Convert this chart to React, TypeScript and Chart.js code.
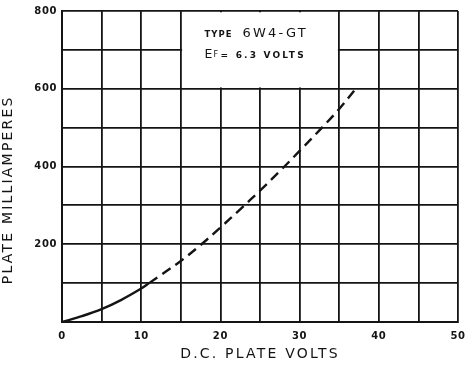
import React, { useEffect, useRef } from 'react';
import { Chart, registerables } from 'chart.js';

Chart.register(...registerables);

// ---- data ----
const solidVolts = [0, 2.5, 5, 7.5, 10, 11];
const solidMa = [0, 15, 33, 57, 86, 100];
const dashedVolts = [11, 12.5, 15, 17.5, 20, 22.5, 25, 27.5, 30, 32.5, 35, 37.1];
const dashedMa = [100, 121, 157, 198, 243, 290, 338, 388, 440, 493, 548, 600];

const xTickLabels = [0, 10, 20, 30, 40, 50];
const yTickLabels = [200, 400, 600, 800];

const xTitle = 'D.C. PLATE VOLTS';
const yTitle = 'PLATE MILLIAMPERES';
const typeWord = 'TYPE';
const tubeName = '6W4-GT';
const filamentE = 'E';
const filamentSub = 'F';
const filamentValue = '= 6.3 VOLTS';

const INK = '#141414';

const decorPlugin = {
  id: 'decor',
  beforeDraw(chart: any) {
    chart.ctx.letterSpacing = '2.2px';
  },
  beforeDatasetsDraw(chart: any) {
    const ctx = chart.ctx;
    ctx.letterSpacing = '0px';
    const xs = chart.scales.x;
    const ys = chart.scales.y;
    ctx.save();
    ctx.fillStyle = '#ffffff';
    const l = xs.getPixelForValue(15) + 1.3;
    const r = xs.getPixelForValue(35) - 1.3;
    const t = ys.getPixelForValue(800) + 1.3;
    const b = ys.getPixelForValue(600) - 1.3;
    ctx.fillRect(l, t, r - l, b - t);

    ctx.fillStyle = INK;
    ctx.textAlign = 'left';
    ctx.textBaseline = 'alphabetic';
    const x0 = xs.getPixelForValue(18);
    const y1 = ys.getPixelForValue(733);
    const y2 = ys.getPixelForValue(680);

    ctx.font = 'bold 8.5px "DejaVu Sans"';
    ctx.letterSpacing = '1px';
    ctx.fillText(typeWord, x0, y1);
    ctx.font = '13px "DejaVu Sans"';
    ctx.letterSpacing = '2.2px';
    ctx.fillText(tubeName, x0 + 38, y1);

    ctx.font = '12.5px "DejaVu Sans"';
    ctx.letterSpacing = '0px';
    ctx.fillText(filamentE, x0, y2);
    ctx.font = '8px "DejaVu Sans"';
    ctx.fillText(filamentSub, x0 + 9, y2 - 0.5);
    ctx.font = 'bold 9px "DejaVu Sans"';
    ctx.letterSpacing = '2.2px';
    ctx.fillText(filamentValue, x0 + 16, y2);
    ctx.restore();
  },
  afterDatasetsDraw(chart: any) {
    chart.ctx.letterSpacing = '0.6px';
  },
  afterDraw(chart: any) {
    chart.ctx.letterSpacing = '0px';
  },
};

export default function App() {
  const ref = useRef<HTMLCanvasElement | null>(null);

  useEffect(() => {
    if (!ref.current) return;
    const tickFont = { family: '"DejaVu Sans"', weight: 'bold' as const, size: 10 };
    const titleFont = { family: '"DejaVu Sans"', size: 14 };
    const chart = new Chart(ref.current, {
      type: 'line',
      data: {
        datasets: [
          {
            data: solidVolts.map((v, i) => ({ x: v, y: solidMa[i] })),
            borderColor: INK,
            borderWidth: 2.4,
            pointRadius: 0,
            tension: 0.35,
            fill: false,
          },
          {
            data: dashedVolts.map((v, i) => ({ x: v, y: dashedMa[i] })),
            borderColor: INK,
            borderWidth: 2.4,
            borderDash: [10, 6],
            pointRadius: 0,
            tension: 0.35,
            fill: false,
          },
        ],
      },
      options: {
        animation: false,
        responsive: false,
        layout: { padding: { left: 0, top: 6, right: 16, bottom: 0 } },
        plugins: { legend: { display: false }, tooltip: { enabled: false } },
        scales: {
          x: {
            type: 'linear',
            min: 0,
            max: 50,
            afterFit: (s: any) => {
              s.height = 44;
            },
            grid: { color: INK, lineWidth: 1.8, drawTicks: false },
            border: { color: INK, width: 2 },
            ticks: {
              stepSize: 5,
              autoSkip: false,
              maxRotation: 0,
              z: 1,
              padding: 8,
              color: INK,
              font: tickFont,
              callback: (v: any) => (xTickLabels.includes(Number(v)) ? String(v) : ''),
            },
            title: {
              display: true,
              text: xTitle,
              color: INK,
              font: titleFont,
              padding: { top: 0, bottom: 3 },
            },
          },
          y: {
            type: 'linear',
            min: 0,
            max: 800,
            afterFit: (s: any) => {
              s.width = 62;
            },
            grid: { color: INK, lineWidth: 1.8, drawTicks: false },
            border: { color: INK, width: 2 },
            ticks: {
              stepSize: 100,
              autoSkip: false,
              z: 1,
              padding: 5,
              color: INK,
              font: tickFont,
              callback: (v: any) => (yTickLabels.includes(Number(v)) ? String(v) : ''),
            },
            title: {
              display: true,
              text: yTitle + '       ',
              color: INK,
              font: titleFont,
              padding: { top: 0, bottom: 8 },
            },
          },
        },
      },
      plugins: [decorPlugin],
    } as any);
    return () => chart.destroy();
  }, []);

  return (
    <div style={{ position: 'fixed', left: 0, top: 0, width: 474, height: 366, background: '#fff' }}>
      <canvas ref={ref} width={474} height={366} style={{ display: 'block' }} />
    </div>
  );
}
